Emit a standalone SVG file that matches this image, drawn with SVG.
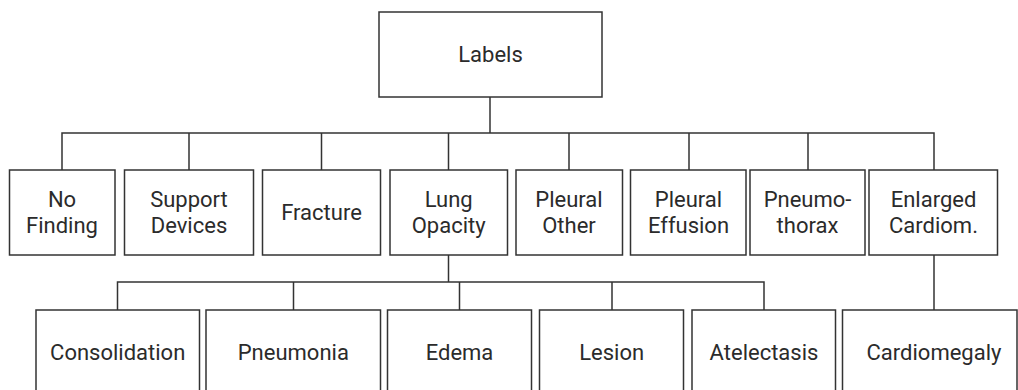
<svg xmlns="http://www.w3.org/2000/svg" width="1018" height="390" viewBox="0 0 1018 390">
  <style>
    .box { fill: #ffffff; stroke: #333333; stroke-width: 1.5; }
    .lbl { font-family: Roboto, "Liberation Sans", sans-serif; font-size: 22px; fill: #2b2b2b; text-anchor: middle; }
    .wire { fill: none; stroke: #333333; stroke-width: 1.5; }
  </style>
  <rect width="1018" height="390" fill="#ffffff"/>

  <!-- tree connectors -->
  <g id="connectors" class="wire">
    <path d="M490 97 V133"/>
    <path d="M62 170 V133 H934 V170"/>
    <path d="M189 133 V170 M321.5 133 V170 M448.5 133 V170 M569 133 V170 M689 133 V170 M808 133 V170"/>
    <path d="M448.5 255 V282"/>
    <path d="M117.5 310 V282 H764 V310"/>
    <path d="M293.5 282 V310 M459.5 282 V310 M612 282 V310"/>
    <path d="M934 255 V310"/>
  </g>

  <!-- root -->
  <g id="labels">
    <rect class="box" x="379" y="12" width="223" height="85"/>
    <text class="lbl" x="490.5" y="62">Labels</text>
  </g>

  <!-- first level -->
  <g id="no-finding">
    <rect class="box" x="9.5" y="170" width="105.5" height="85"/>
    <text class="lbl" x="62" y="207">No</text>
    <text class="lbl" x="62" y="233">Finding</text>
  </g>
  <g id="support-devices">
    <rect class="box" x="124.5" y="170" width="129" height="85"/>
    <text class="lbl" x="189" y="207">Support</text>
    <text class="lbl" x="189" y="233">Devices</text>
  </g>
  <g id="fracture">
    <rect class="box" x="262.5" y="170" width="118" height="85"/>
    <text class="lbl" x="321.5" y="220">Fracture</text>
  </g>
  <g id="lung-opacity">
    <rect class="box" x="390" y="170" width="117.5" height="85"/>
    <text class="lbl" x="448.7" y="207">Lung</text>
    <text class="lbl" x="448.7" y="233">Opacity</text>
  </g>
  <g id="pleural-other">
    <rect class="box" x="516" y="170" width="106.5" height="85"/>
    <text class="lbl" x="569" y="207">Pleural</text>
    <text class="lbl" x="569" y="233">Other</text>
  </g>
  <g id="pleural-effusion">
    <rect class="box" x="630.5" y="170" width="115.5" height="85"/>
    <text class="lbl" x="688.5" y="207">Pleural</text>
    <text class="lbl" x="688.5" y="233">Effusion</text>
  </g>
  <g id="pneumothorax">
    <rect class="box" x="750" y="170" width="115" height="85"/>
    <text class="lbl" x="807.5" y="207">Pneumo-</text>
    <text class="lbl" x="807.5" y="233">thorax</text>
  </g>
  <g id="enlarged-cardiom">
    <rect class="box" x="869" y="170" width="128.5" height="85"/>
    <text class="lbl" x="933.5" y="207">Enlarged</text>
    <text class="lbl" x="933.5" y="233">Cardiom.</text>
  </g>

  <!-- second level -->
  <g id="consolidation">
    <rect class="box" x="36" y="310" width="163.5" height="85"/>
    <text class="lbl" x="117.7" y="360">Consolidation</text>
  </g>
  <g id="pneumonia">
    <rect class="box" x="206" y="310" width="174.5" height="85"/>
    <text class="lbl" x="293.3" y="360">Pneumonia</text>
  </g>
  <g id="edema">
    <rect class="box" x="387.5" y="310" width="144" height="85"/>
    <text class="lbl" x="459.5" y="360">Edema</text>
  </g>
  <g id="lesion">
    <rect class="box" x="539.5" y="310" width="144" height="85"/>
    <text class="lbl" x="611.7" y="360">Lesion</text>
  </g>
  <g id="atelectasis">
    <rect class="box" x="692" y="310" width="143.5" height="85"/>
    <text class="lbl" x="764" y="360">Atelectasis</text>
  </g>
  <g id="cardiomegaly">
    <rect class="box" x="842.5" y="310" width="174.5" height="85"/>
    <text class="lbl" x="934" y="360">Cardiomegaly</text>
  </g>
</svg>
